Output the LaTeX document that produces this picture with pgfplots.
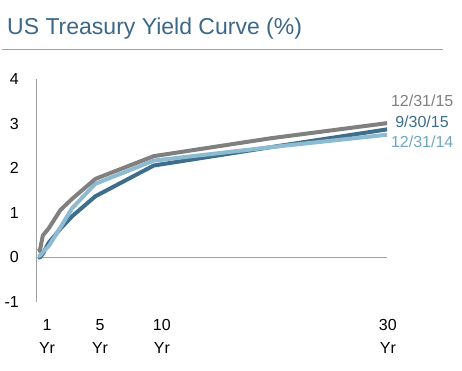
\documentclass[border=0pt]{standalone}
\usepackage{pgfplots}
\pgfplotsset{compat=1.18}
\usepackage{fontspec}
\setmainfont{Liberation Sans}
\definecolor{titleblue}{RGB}{59,104,136}
\definecolor{darkser}{RGB}{62,110,139}
\definecolor{lightser}{RGB}{141,187,209}
\definecolor{grayser}{RGB}{128,128,128}
\definecolor{lightlab}{RGB}{112,166,192}
\definecolor{rulegray}{RGB}{160,160,160}
\begin{document}
\begin{tikzpicture}
\path[use as bounding box] (0pt,0pt) rectangle (462pt,371pt);
\node[anchor=base west, inner sep=0pt, text=titleblue, font=\fontsize{23}{27}\selectfont] at (7pt,336pt) {US Treasury Yield Curve (\%)};
\draw[rulegray, line width=1pt] (2pt,321pt) -- (443pt,321pt);
\begin{axis}[
  at={(37pt,69pt)}, anchor=south west,
  scale only axis, width=352.4pt, height=223pt,
  xmin=0, xmax=30.2, ymin=-1, ymax=4,
  axis lines=left,
  x axis line style={draw=none},
  y axis line style={draw=rulegray, line width=1pt, -},
  major tick length=0pt,
  xtick={0.86,5.4,10.7,30.07},
  xticklabels={1\\Yr,5\\Yr,10\\Yr,30\\Yr},
  xticklabel style={align=center, inner sep=0pt, anchor=north, yshift=-17pt, font=\fontsize{16}{23}\selectfont},
  ytick={-1,0,1,2,3,4},
  yticklabels={-1,0,1,2,3,4},
  yticklabel style={anchor=east, inner sep=0pt, xshift=-18pt, font=\fontsize{16}{19}\selectfont},
  clip=false,
]
\draw[rulegray, line width=1pt] (axis cs:0,0) -- (axis cs:30,0);
% 9/30/15
\addplot[darkser, line width=4pt, line join=round] coordinates {
 (0.083,0.00) (0.25,0.00) (0.5,0.08) (1,0.33) (2,0.64) (3,0.92) (5,1.37) (10,2.06) (20,2.47) (30,2.87)};
% 12/31/14
\addplot[lightser, line width=4pt, line join=round] coordinates {
 (0.083,0.03) (0.25,0.04) (0.5,0.12) (1,0.25) (2,0.67) (3,1.10) (5,1.65) (10,2.17) (20,2.47) (30,2.75)};
% 12/31/15
\addplot[grayser, line width=4pt, line join=round] coordinates {
 (0.083,0.14) (0.25,0.16) (0.5,0.49) (1,0.65) (2,1.06) (3,1.31) (5,1.76) (10,2.27) (20,2.67) (30,3.01)};
\node[anchor=east, inner sep=0pt, text=grayser, font=\fontsize{16}{19}\selectfont] at (axis cs:35.7,3.51) {12/31/15};
\node[anchor=east, inner sep=0pt, text=darkser, font=\fontsize{16}{19}\selectfont] at (axis cs:35.3,3.04) {9/30/15};
\node[anchor=east, inner sep=0pt, text=lightlab, font=\fontsize{16}{19}\selectfont] at (axis cs:35.7,2.59) {12/31/14};
\end{axis}
\end{tikzpicture}
\end{document}
